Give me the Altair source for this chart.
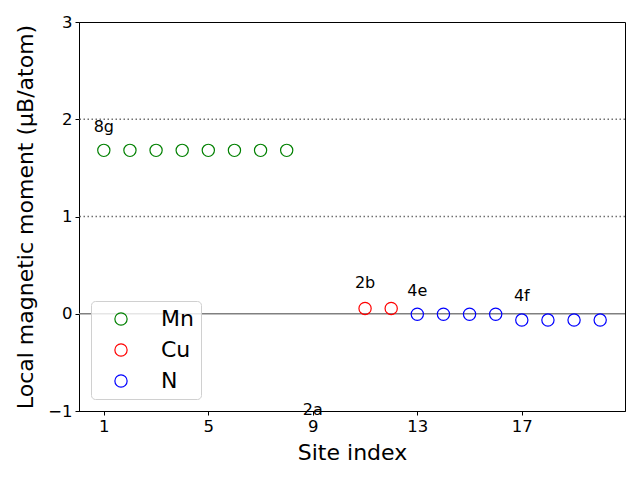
import altair as alt
import pandas as pd

sites = [1, 2, 3, 4, 5, 6, 7, 8, 11, 12, 13, 14, 15, 16, 17, 18, 19, 20]
elements = ["Mn", "Mn", "Mn", "Mn", "Mn", "Mn", "Mn", "Mn",
            "Cu", "Cu",
            "N", "N", "N", "N", "N", "N", "N", "N"]
moments = [1.68, 1.68, 1.68, 1.68, 1.68, 1.68, 1.68, 1.68,
           0.055, 0.055,
           -0.005, -0.005, -0.005, -0.005, -0.065, -0.065, -0.065, -0.065]

label_text = ["8g", "2b", "4e", "4f", "2a"]
label_x = [1, 11, 13, 17, 9]
label_y = [1.87, 0.26, 0.185, 0.13, -1.04]

hline_y = [0, 1, 2]
hline_kind = ["solid", "dotted", "dotted"]

x_ticks = [1, 5, 9, 13, 17]
y_ticks = [-1, 0, 1, 2, 3]

pts = pd.DataFrame({"site": sites, "element": elements, "moment": moments})
labs = pd.DataFrame({"text": label_text, "x": label_x, "y": label_y})
hl = pd.DataFrame({"y": hline_y, "kind": hline_kind})

xscale = alt.Scale(domain=[0.05, 20.95], nice=False, zero=False)
yscale = alt.Scale(domain=[-1, 3], nice=False, zero=False)

solid = alt.Chart(hl[hl.kind == "solid"]).mark_rule(color="#808080", strokeWidth=1.5).encode(
    y=alt.Y("y:Q", scale=yscale)
)
dotted = alt.Chart(hl[hl.kind == "dotted"]).mark_rule(
    color="#707070", strokeWidth=1.5, strokeDash=[1.5, 2.5]
).encode(y=alt.Y("y:Q", scale=yscale))

points = alt.Chart(pts).mark_point(shape="circle", filled=False, size=150, strokeWidth=1.2, opacity=1).encode(
    x=alt.X("site:Q", scale=xscale,
            axis=alt.Axis(values=x_ticks, title="Site index", format="d")),
    y=alt.Y("moment:Q", scale=yscale,
            axis=alt.Axis(values=y_ticks, title="Local magnetic moment (μB/atom)", format="d")),
    color=alt.Color("element:N",
                    scale=alt.Scale(domain=["Mn", "Cu", "N"], range=["green", "red", "blue"]),
                    legend=alt.Legend(title=None, orient="none", legendX=12, legendY=279,
                                      symbolType="circle", symbolSize=150, symbolStrokeWidth=1.2,
                                      symbolFillColor="transparent",
                                      labelFontSize=22, labelFont="DejaVu Sans",
                                      labelColor="black",
                                      padding=7, rowPadding=9, symbolOffset=12, labelOffset=29,
                                      fillColor="rgba(255,255,255,0.8)", strokeColor="#d0d0d0",
                                      cornerRadius=4)),
)

texts = alt.Chart(labs).mark_text(fontSize=16, font="DejaVu Sans", color="black",
                                  align="center", baseline="alphabetic").encode(
    x=alt.X("x:Q", scale=xscale),
    y=alt.Y("y:Q", scale=yscale),
    text="text:N",
)

chart = alt.layer(solid, dotted, points, texts).properties(
    width=546, height=389,
    autosize=alt.AutoSizeParams(type="none"),
    padding={"left": 79, "top": 22, "right": 15, "bottom": 69},
).configure_view(stroke="black", strokeWidth=1).configure_axis(
    grid=False, domainColor="black", tickColor="black", labelColor="black", titleColor="black",
    labelFont="DejaVu Sans", titleFont="DejaVu Sans", labelFontSize=16.5, titleFontSize=22,
    titleFontWeight="normal", tickSize=4, labelPadding=3, domainWidth=1, tickWidth=1
).configure_axisX(titlePadding=8).configure_axisY(titlePadding=10)

chart.save("out.html", embed_options={"renderer": "svg", "actions": False})
